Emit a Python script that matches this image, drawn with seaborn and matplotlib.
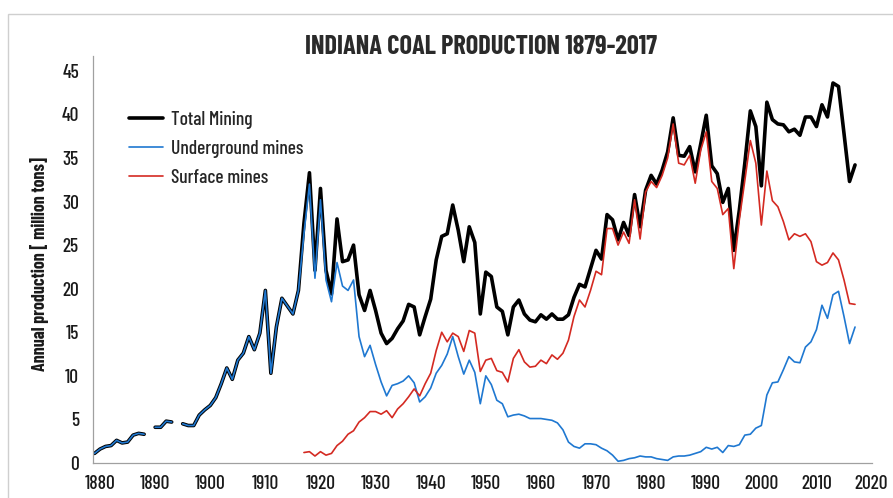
import numpy as np
import pandas as pd
import matplotlib
matplotlib.use("Agg")
import matplotlib.pyplot as plt
import seaborn as sns
from matplotlib import font_manager as fm
from matplotlib.patches import Rectangle

# ── Data (million short tons) ──────────────────────────────
years = list(range(1879, 2018))

total = [
    1.1, 1.6, 1.9, 2.0, 2.6, 2.3, 2.4, 3.2, 3.4, 3.3,          # 1879-1888
    np.nan, 4.1, 4.1, 4.8, 4.7, np.nan,                        # 1889-1894
    4.5, 4.3, 4.3, 5.5, 6.1, 6.6, 7.5, 9.1, 10.9, 9.6,          # 1895-1904
    11.8, 12.6, 14.5, 13.0, 14.9, 19.8, 10.3, 15.6, 18.9, 18.0, # 1905-1914
    17.1, 19.8, 27.5, 33.3, 22.1, 31.5, 22.1, 19.4, 28.0, 23.1, # 1915-1924
    23.3, 25.0, 19.3, 17.5, 19.8, 17.5, 14.9, 13.7, 14.3, 15.4, # 1925-1934
    16.3, 18.2, 17.9, 14.7, 16.8, 18.8, 23.3, 26.0, 26.3, 29.6, # 1935-1944
    26.7, 23.1, 27.1, 25.3, 17.1, 21.9, 21.4, 17.9, 17.4, 14.7, # 1945-1954
    17.9, 18.7, 17.1, 16.4, 16.2, 17.0, 16.5, 17.1, 16.5, 16.5, # 1955-1964
    17.0, 19.0, 20.5, 20.2, 22.3, 24.4, 23.4, 28.5, 27.9, 25.6, # 1965-1974
    27.6, 26.1, 30.8, 27.1, 31.3, 33.0, 32.0, 33.6, 35.7, 39.6, # 1975-1984
    35.3, 35.2, 36.3, 33.4, 36.6, 39.9, 34.1, 33.2, 29.9, 31.5, # 1985-1994
    24.4, 29.0, 34.4, 40.4, 38.6, 31.8, 41.4, 39.4, 38.9, 38.8, # 1995-2004
    38.0, 38.3, 37.6, 39.7, 39.7, 38.6, 41.1, 39.7, 43.6, 43.2, # 2005-2014
    37.8, 32.3, 34.2,                                          # 2015-2017
]

underground = total[:38] + [
    26.3, 32.0, 21.2, 30.2, 21.0, 18.5, 23.0, 20.3,             # 1917-1924
    19.8, 21.0, 14.5, 12.2, 13.5, 11.3, 9.3, 7.7, 8.9, 9.1,     # 1925-1934
    9.4, 10.0, 9.2, 7.0, 7.6, 8.6, 10.3, 11.2, 12.5, 14.5,      # 1935-1944
    12.2, 10.2, 11.8, 10.4, 6.8, 10.0, 9.0, 7.2, 6.8, 5.3,      # 1945-1954
    5.5, 5.6, 5.4, 5.1, 5.1, 5.1, 5.0, 4.9, 4.6, 3.8,           # 1955-1964
    2.4, 1.9, 1.7, 2.2, 2.2, 2.1, 1.7, 1.4, 0.9, 0.2,           # 1965-1974
    0.3, 0.5, 0.6, 0.8, 0.7, 0.7, 0.5, 0.4, 0.3, 0.7,           # 1975-1984
    0.8, 0.8, 0.9, 1.1, 1.3, 1.8, 1.6, 1.8, 1.2, 2.0,           # 1985-1994
    1.9, 2.1, 3.2, 3.3, 4.0, 4.3, 7.8, 9.2, 9.3, 10.7,          # 1995-2004
    12.2, 11.6, 11.5, 13.3, 13.9, 15.3, 18.1, 16.6, 19.3, 19.7, # 2005-2014
    16.8, 13.7, 15.6,                                          # 2015-2017
]

surface = [np.nan] * 38 + [
    1.2, 1.3, 0.8, 1.3, 0.9, 1.1, 2.0, 2.5,                     # 1917-1924
    3.3, 3.7, 4.7, 5.2, 5.9, 5.9, 5.6, 6.0, 5.2, 6.2,           # 1925-1934
    6.8, 7.6, 8.5, 7.7, 9.1, 10.3, 12.9, 15.0, 13.9, 14.9,      # 1935-1944
    14.5, 12.8, 15.2, 14.9, 10.5, 11.8, 12.0, 10.6, 10.4, 9.3,  # 1945-1954
    12.0, 13.0, 11.6, 11.0, 11.1, 11.8, 11.4, 12.4, 11.9, 12.6, # 1955-1964
    14.1, 16.8, 18.7, 17.9, 19.8, 22.0, 21.6, 26.9, 26.9, 25.0, # 1965-1974
    26.5, 25.2, 30.2, 25.7, 31.1, 32.3, 31.6, 33.0, 35.0, 38.9, # 1975-1984
    34.4, 34.2, 35.3, 32.1, 35.9, 38.0, 32.3, 31.5, 28.5, 29.2, # 1985-1994
    22.3, 27.9, 32.4, 37.0, 34.4, 27.3, 33.5, 30.1, 29.4, 27.7, # 1995-2004
    25.6, 26.3, 26.0, 26.3, 25.4, 23.1, 22.7, 23.0, 24.1, 23.3, # 2005-2014
    21.0, 18.3, 18.2,                                          # 2015-2017
]

df = pd.DataFrame({"year": years, "Total Mining": total,
                   "Underground mines": underground, "Surface mines": surface})
# gaps in the record (1889, 1894) -> separate line segments
df["seg"] = df["Total Mining"].isna().cumsum()


# ── Fonts: a condensed family that also has a real bold face ──
def weight_num(w):
    return w if isinstance(w, int) else fm.weight_dict.get(str(w), 400)

faces = {}
for f in fm.fontManager.ttflist:
    faces.setdefault(f.name, set()).add(weight_num(f.weight))

FONT = "DejaVu Sans"
for cand in ["Barlow Condensed", "Roboto Condensed", "Asap Condensed",
             "Archivo Narrow", "Oswald"]:
    ws = faces.get(cand, set())
    if 400 in ws and any(w >= 700 for w in ws):
        FONT = cand
        break
TEXT_W = 500 if 500 in faces.get(FONT, set()) else "normal"

sns.set_style("white")
plt.rcParams["font.family"] = [FONT, "DejaVu Sans"]

fig = plt.figure(figsize=(8.93, 4.98), dpi=100)
ax = fig.add_axes([0.104, 0.0703, 0.872, 0.8173])

fig.patches.append(Rectangle((8 / 893, -0.01), 1.0, 1 - 14 / 498 + 0.01,
                             transform=fig.transFigure, fill=False,
                             edgecolor="#cfcfcf", linewidth=1.0))

series = [("Total Mining", "black", 2.6),
          ("Underground mines", "#1f78d1", 1.2),
          ("Surface mines", "#d42a22", 1.2)]

for name, col, lw in series:
    d = df.dropna(subset=[name])
    sns.lineplot(data=d, x="year", y=name, units="seg", estimator=None,
                 color=col, linewidth=lw, ax=ax, label=name, legend=False)

ax.set_xlim(1878.7, 2020)
ax.set_ylim(0, 46.7)
ax.set_xticks(range(1880, 2021, 10))
ax.set_yticks(range(0, 46, 5))
ax.tick_params(axis="both", which="both", length=5, width=0.8, color="#a0a0a0",
               labelsize=14, labelcolor="#1a1a1a", direction="out")
ax.tick_params(axis="x", pad=4)
ax.tick_params(axis="y", pad=5)
for lab in ax.get_xticklabels() + ax.get_yticklabels():
    lab.set_fontweight(TEXT_W)

sns.despine(ax=ax)
for s in ["left", "bottom"]:
    ax.spines[s].set_color("#a0a0a0")
    ax.spines[s].set_linewidth(0.9)

ax.set_xlabel("")
ax.set_ylabel("Annual production [ million tons]", fontsize=13,
              fontweight="bold", color="#1a1a1a")
ax.yaxis.set_label_coords(-0.056, 0.49)

fig.text(0.539, 0.906, "INDIANA COAL PRODUCTION 1879-2017", ha="center",
         va="center", fontsize=19, fontweight="bold", color="#2a2a2a")

# one legend entry per series (segments share a label)
h, l = ax.get_legend_handles_labels()
uniq = dict(zip(l, h))
ax.legend(uniq.values(), uniq.keys(), loc="upper left",
          bbox_to_anchor=(0.034, 0.888), frameon=False, borderpad=0,
          prop={"size": 14, "weight": TEXT_W},
          handlelength=1.75, handletextpad=0.4, labelspacing=0.55)

fig.savefig("out.png", dpi=100)
